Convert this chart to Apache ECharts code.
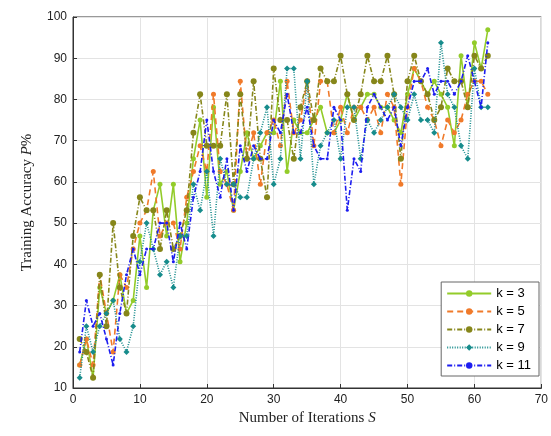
<!DOCTYPE html>
<html>
<head>
<meta charset="utf-8">
<title>Training Accuracy</title>
<script src="https://cdn.jsdelivr.net/npm/echarts@6/dist/echarts.min.js"></script>
<style>
  html, body { margin: 0; padding: 0; background: #fff; }
  #chart { width: 551px; height: 436px; }
</style>
</head>
<body>
<div id="chart"></div>
<script>
// iteration index 1..62
const iterations = Array.from({ length: 62 }, (_, i) => i + 1)

const k3 = [15.6, 21.9, 12.5, 34.4, 28.1, 31.25, 37.5, 28.1, 31.25, 46.9,
  34.4, 53.1, 59.4, 46.9, 59.4, 40.6, 50, 65.6, 75, 56.25,
  78.1, 59.4, 62.5, 53.1, 62.5, 71.9, 65.6, 68.75, 71.9, 71.9,
  84.4, 62.5, 75, 71.9, 71.9, 75, 78.1, 71.9, 71.9, 75,
  81.25, 75, 78.1, 81.25, 81.25, 78.1, 78.1, 75, 71.9, 81.25,
  87.5, 84.4, 81.25, 84.4, 81.25, 78.1, 68.75, 90.6, 78.1, 93.75,
  87.5, 96.9]

const k5 = [15.6, 21.9, 15.6, 37.5, 28.1, 18.75, 37.5, 34.4, 43.75, 50,
  53.1, 62.5, 46.9, 50, 50, 43.75, 56.25, 62.5, 68.75, 62.5,
  81.25, 62.5, 59.4, 53.1, 84.4, 65.6, 71.9, 59.4, 71.9, 75,
  68.75, 84.4, 71.9, 75, 84.4, 68.75, 84.4, 84.4, 71.9, 78.1,
  71.9, 78.1, 78.1, 75, 78.1, 71.9, 81.25, 78.1, 59.4, 78.1,
  87.5, 84.4, 78.1, 75, 68.75, 75, 71.9, 75, 81.25, 84.4,
  84.4, 81.25]

const k7 = [21.9, 18.75, 12.5, 37.5, 25, 50, 34.4, 28.1, 46.9, 56.25,
  53.1, 53.1, 43.75, 53.1, 43.75, 46.9, 53.1, 71.9, 81.25, 68.75,
  68.75, 68.75, 81.25, 59.4, 81.25, 65.6, 84.4, 65.6, 56.25, 87.5,
  75, 75, 65.6, 78.1, 84.4, 75, 87.5, 84.4, 84.4, 90.6,
  81.25, 75, 81.25, 90.6, 84.4, 84.4, 90.6, 81.25, 65.6, 84.4,
  90.6, 84.4, 81.25, 75, 78.1, 87.5, 84.4, 84.4, 78.1, 90.6,
  87.5, 90.6]

const k9 = [12.5, 25, 18.75, 25, 28.1, 31.25, 21.9, 18.75, 25, 40.6,
  50, 43.75, 37.5, 40.6, 34.4, 46.9, 46.9, 59.4, 53.1, 62.5,
  46.9, 65.6, 59.4, 59.4, 56.25, 56.25, 65.6, 71.9, 78.1, 59.4,
  65.6, 87.5, 87.5, 65.6, 84.4, 59.4, 68.75, 71.9, 75, 65.6,
  78.1, 78.1, 65.6, 75, 71.9, 75, 78.1, 81.25, 78.1, 75,
  81.25, 75, 75, 71.9, 93.75, 81.25, 78.1, 68.75, 65.6, 87.5,
  78.1, 78.1]

const k11 = [18.75, 31.25, 25, 28.1, 21.9, 15.6, 28.1, 37.5, 43.75, 37.5,
  43.75, 43.75, 50, 50, 40.6, 50, 43.75, 56.25, 62.5, 75,
  62.5, 56.25, 65.6, 53.1, 68.75, 62.5, 68.75, 65.6, 65.6, 75,
  71.9, 81.25, 71.9, 71.9, 78.1, 68.75, 65.6, 65.6, 78.1, 75,
  53.1, 65.6, 62.5, 78.1, 81.25, 78.1, 75, 78.1, 68.75, 78.1,
  84.4, 84.4, 87.5, 81.25, 84.4, 84.4, 81.25, 84.4, 90.6, 84.4,
  78.1, 93.75]

const seriesNames = ['k = 3', 'k = 5', 'k = 7', 'k = 9', 'k = 11']
const seriesValues = [k3, k5, k7, k9, k11]

const xTicks = [0, 10, 20, 30, 40, 50, 60, 70]
const yTicks = [10, 20, 30, 40, 50, 60, 70, 80, 90, 100]

// 线型与颜色
const styles = [
  { color: '#93cc2a', type: 'solid', symbol: 'circle', size: 5 },
  { color: '#f07a2a', type: [6, 4], symbol: 'circle', size: 5 },
  { color: '#86861a', type: [5, 2, 1, 2], symbol: 'circle', size: 6 },
  { color: '#178c8c', type: [1, 1.5], symbol: 'diamond', size: 6 },
  { color: '#1d1df0', type: [5, 2, 1, 2], symbol: 'circle', size: 3 }
]

const chart = echarts.init(document.getElementById('chart'))

const option = {
  animation: false,
  backgroundColor: '#fff',
  grid: {
    left: 73,
    right: 9,
    top: 17,
    bottom: 48,
    show: true,
    borderColor: '#333',
    borderWidth: 1
  },
  legend: {
    orient: 'vertical',
    right: 12,
    bottom: 60,
    itemWidth: 44,
    itemHeight: 8,
    itemGap: 5,
    padding: [5, 8, 4, 5],
    backgroundColor: '#fff',
    borderColor: '#666',
    borderWidth: 1,
    borderRadius: 0,
    textStyle: { fontFamily: 'Liberation Sans', fontSize: 13, color: '#000' },
    data: seriesNames
  },
  xAxis: {
    type: 'value',
    min: xTicks[0],
    max: xTicks[xTicks.length - 1],
    interval: 10,
    name: 'Number of Iterations {i|S}',
    nameLocation: 'middle',
    nameGap: 22,
    nameTextStyle: {
      fontFamily: 'Liberation Serif',
      fontSize: 15,
      color: '#222',
      rich: { i: { fontStyle: 'italic', fontFamily: 'Liberation Serif', fontSize: 15, color: '#222' } }
    },
    axisLine: { lineStyle: { color: '#333' } },
    axisTick: { inside: true, length: 4, lineStyle: { color: '#333' } },
    axisLabel: { fontFamily: 'Liberation Sans', fontSize: 12, color: '#222', margin: 6 },
    splitLine: { show: true, lineStyle: { color: '#e3e3e3' } }
  },
  yAxis: {
    type: 'value',
    min: yTicks[0],
    max: yTicks[yTicks.length - 1],
    interval: 10,
    name: 'Training Accuracy {i|P}%',
    nameLocation: 'middle',
    nameGap: 38,
    nameTextStyle: {
      fontFamily: 'Liberation Serif',
      fontSize: 15,
      color: '#222',
      rich: { i: { fontStyle: 'italic', fontFamily: 'Liberation Serif', fontSize: 15, color: '#222' } }
    },
    axisLine: { show: true, lineStyle: { color: '#333' } },
    axisTick: { show: true, inside: true, length: 4, lineStyle: { color: '#333' } },
    axisLabel: { fontFamily: 'Liberation Sans', fontSize: 12, color: '#222', margin: 6 },
    splitLine: { show: true, lineStyle: { color: '#e3e3e3' } }
  },
  series: seriesNames.map((name, s) => ({
    name: name,
    type: 'line',
    data: iterations.map((it, j) => [it, seriesValues[s][j]]),
    symbol: styles[s].symbol,
    symbolSize: styles[s].size,
    showSymbol: true,
    lineStyle: { color: styles[s].color, width: 1.6, type: styles[s].type },
    itemStyle: { color: styles[s].color },
    z: 2 + s
  }))
}

chart.setOption(option)
</script>
</body>
</html>
